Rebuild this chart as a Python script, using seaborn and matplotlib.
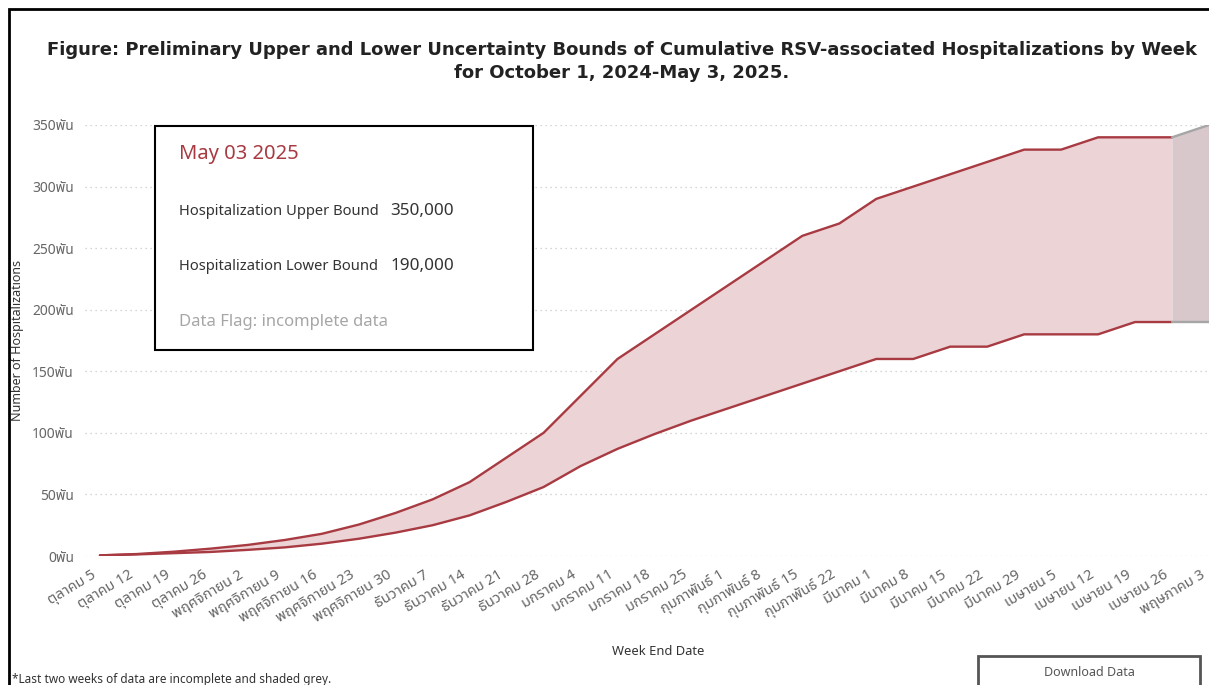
import matplotlib
matplotlib.use("Agg")
import matplotlib.pyplot as plt
import matplotlib.transforms as mtransforms
import seaborn as sns
import pandas as pd
from matplotlib import font_manager
from matplotlib.ft2font import FT2Font
from matplotlib.patches import Rectangle

# ---------------- data ----------------
week_labels = [
    "ตุลาคม 5", "ตุลาคม 12", "ตุลาคม 19", "ตุลาคม 26",
    "พฤศจิกายน 2", "พฤศจิกายน 9", "พฤศจิกายน 16", "พฤศจิกายน 23", "พฤศจิกายน 30",
    "ธันวาคม 7", "ธันวาคม 14", "ธันวาคม 21", "ธันวาคม 28",
    "มกราคม 4", "มกราคม 11", "มกราคม 18", "มกราคม 25",
    "กุมภาพันธ์ 1", "กุมภาพันธ์ 8", "กุมภาพันธ์ 15", "กุมภาพันธ์ 22",
    "มีนาคม 1", "มีนาคม 8", "มีนาคม 15", "มีนาคม 22", "มีนาคม 29",
    "เมษายน 5", "เมษายน 12", "เมษายน 19", "เมษายน 26",
    "พฤษภาคม 3",
]
upper_bound = [500, 1600, 3500, 6000, 9000, 13000, 18000, 25500, 35000,
               46000, 60000, 80000, 100000, 130000, 160000, 180000, 200000,
               220000, 240000, 260000, 270000, 290000, 300000, 310000, 320000,
               330000, 330000, 340000, 340000, 340000, 350000]
lower_bound = [500, 1300, 2300, 3300, 5000, 7000, 10000, 14000, 19000,
               25000, 33000, 44000, 56000, 73000, 87000, 99000, 110000,
               120000, 130000, 140000, 150000, 160000, 160000, 170000, 170000,
               180000, 180000, 180000, 190000, 190000, 190000]
incomplete_weeks = 2
y_ticks = [0, 50000, 100000, 150000, 200000, 250000, 300000, 350000]

# ---------------- fonts ----------------
def find_thai_font():
    prefs = ["Noto Sans Thai", "Noto Sans Thai UI", "Noto Sans Thai Looped"]
    names = {}
    for f in font_manager.fontManager.ttflist:
        try:
            cm = FT2Font(f.fname).get_charmap()
        except Exception:
            continue
        if 0x0E01 in cm:
            names[f.name] = True
    for p in prefs:
        if p in names:
            return p
    for n in names:
        if "Sans" in n:
            return n
    return next(iter(names), None)

sns.set_theme(style="white")
thai = find_thai_font()
base_family = ["Noto Sans", "DejaVu Sans"]
thai_family = ([thai] if thai else []) + ["DejaVu Sans"]
plt.rcParams["font.family"] = base_family

RED = "#A83A42"
PINK = "#EBD3D6"
GREY_FILL = "#D8C8CB"
GREY_LINE = "#A6A6A6"
TXT = "#333333"
TICK = "#666666"

n = len(week_labels)
idx = list(range(n))
df = pd.DataFrame({"week": idx, "upper": upper_bound, "lower": lower_bound})
split = n - incomplete_weeks + 1
complete = df.iloc[:split]
partial = df.iloc[split - 1:]

fig = plt.figure(figsize=(12.09, 6.85), dpi=100)
W, H = 1209, 685
ax = fig.add_axes([85 / W, 1 - 556 / H, (W - 85) / W, (556 - 125) / H])

# shaded bands
ax.fill_between(complete["week"], complete["lower"], complete["upper"],
                color=PINK, linewidth=0, zorder=1)
ax.fill_between(partial["week"], partial["lower"], partial["upper"],
                color=GREY_FILL, linewidth=0, zorder=1)

# lines
for col in ["upper", "lower"]:
    sns.lineplot(data=complete, x="week", y=col, color=RED, linewidth=1.7,
                 ax=ax, zorder=3)
    sns.lineplot(data=partial, x="week", y=col, color=GREY_LINE, linewidth=1.7,
                 ax=ax, zorder=3)

px_per_week = 37.14
ax.set_xlim(-15 / px_per_week, (n - 1) - 5 / px_per_week)
ax.set_ylim(0, 350000)

ax.set_yticks(y_ticks)
ax.set_yticklabels([f"{int(v / 1000)}พัน" for v in y_ticks],
                   family=thai_family, fontsize=10, color=TICK)
ax.set_xticks(idx)
ax.set_xticklabels(week_labels, family=thai_family, fontsize=10.5, color=TICK,
                   rotation=31, ha="right", rotation_mode="anchor")
ax.tick_params(axis="both", length=0, pad=6)
ax.tick_params(axis="y", pad=8)
offset = mtransforms.ScaledTranslation(-9 / 100, -3 / 100, fig.dpi_scale_trans)
for lbl in ax.get_xticklabels():
    lbl.set_transform(lbl.get_transform() + offset)

for s in ax.spines.values():
    s.set_visible(False)
ax.yaxis.grid(True, linestyle=(0, (1, 3)), color="#C8C8C8", linewidth=0.9)
ax.xaxis.grid(False)
ax.set_axisbelow(True)

ax.set_xlabel("Week End Date", fontsize=9.3, color=TXT, labelpad=0)
ax.xaxis.set_label_coords((658 - 85) / (W - 85), -(645 - 556) / (556 - 125))
ax.set_ylabel("Number of Hospitalizations", fontsize=9, color=TXT)
ax.yaxis.set_label_coords(-(85 - 24) / (W - 85), 0.5)

# title
title_font = dict(ha="center", va="center", fontsize=13, fontweight="bold",
                  color="#222222", family=["DejaVu Sans"])
fig.text(622 / W, 1 - 50 / H,
         "Figure: Preliminary Upper and Lower Uncertainty Bounds of Cumulative RSV-associated Hospitalizations by Week",
         **title_font)
fig.text(622 / W, 1 - 73 / H, "for October 1, 2024-May 3, 2025.", **title_font)

# outer frame
fig.patches.append(Rectangle((9 / W, -0.1), 1.2, (1 - 9 / H) + 0.1,
                             transform=fig.transFigure, fill=False,
                             edgecolor="black", linewidth=2, zorder=0))

# tooltip box
bx0, by0, bx1, by1 = 155, 126, 533, 350
fig.patches.append(Rectangle((bx0 / W, 1 - by1 / H), (bx1 - bx0) / W,
                             (by1 - by0) / H, transform=fig.transFigure,
                             facecolor="white", edgecolor="black",
                             linewidth=1.5, zorder=10))
fig.text(179 / W, 1 - 154 / H, "May 03 2025", fontsize=14.5, color=RED,
         va="center", ha="left", zorder=11)
fig.text(179 / W, 1 - 212 / H, "Hospitalization Upper Bound", fontsize=10.6,
         color=TXT, va="center", ha="left", zorder=11)
fig.text(390 / W, 1 - 211 / H, f"{upper_bound[-1]:,}", fontsize=12.3,
         color=TXT, va="center", ha="left", zorder=11)
fig.text(179 / W, 1 - 267 / H, "Hospitalization Lower Bound", fontsize=10.6,
         color=TXT, va="center", ha="left", zorder=11)
fig.text(390 / W, 1 - 266 / H, f"{lower_bound[-1]:,}", fontsize=12.3,
         color=TXT, va="center", ha="left", zorder=11)
fig.text(179 / W, 1 - 322 / H, "Data Flag: incomplete data", fontsize=12,
         color="#A6A6A6", va="center", ha="left", zorder=11)

# footnote
fig.text(12 / W, 1 - 680 / H, "*Last two weeks of data are incomplete and shaded grey.",
         fontsize=8.5, color=TXT, va="center", ha="left")

# download button
fig.patches.append(Rectangle((978 / W, -0.02), (1200 - 978) / W,
                             (685 - 656) / H + 0.02, transform=fig.transFigure,
                             facecolor="white", edgecolor="#555555",
                             linewidth=2, zorder=10))
fig.text(1089 / W, 1 - 672 / H, "Download Data", fontsize=9, color="#555555",
         va="center", ha="center", zorder=11)

fig.savefig("out.png", dpi=100)
